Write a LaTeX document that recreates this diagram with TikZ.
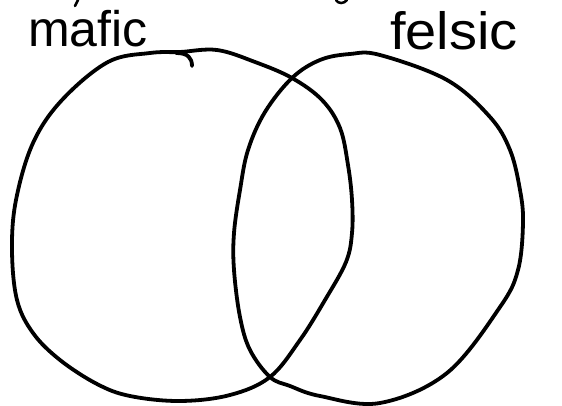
\documentclass[tikz,border=0pt]{standalone}
\usepackage{fontspec}
\usepackage{graphicx}
\setmainfont{Liberation Sans}
\begin{document}
\begin{tikzpicture}[x=1pt,y=-1pt,
  pen/.style={line width=3.8pt,line cap=round,line join=round,black},
  lbl/.style={inner sep=0pt,anchor=base west,font=\fontsize{50}{56}\selectfont}]
\useasboundingbox (0,0) rectangle (562,406);
% labels
\node[lbl] (mafic) at (28,47) {mafic};
\node[lbl] (felsic) at (390,50) {\scalebox{1.12}[1.05]{felsic}};
% left (mafic) ellipse
\draw[pen] plot[smooth cycle,tension=0.6] coordinates {
 (180,52) (217,50) (255,62) (292,78) (322,100) (340,128) (348,165)
 (352,200) (352,233) (346,262) (325,300) (300,340) (270,377)
 (230,395) (180,401) (130,396) (97,384) (60,360) (33,333) (17,300)
 (12,250) (16,200) (33,143) (62,100) (108,62) (150,53)};
% hook at start of stroke
\draw[pen] (176,53) .. controls (188,53) and (192,58) .. (192,66);
% right (felsic) ellipse
\draw[pen] plot[smooth cycle,tension=0.6] coordinates {
 (380,55) (447,80) (490,117) (510,150) (520,190) (523,223) (518,270)
 (500,307) (447,373) (380,403) (320,396) (290,386) (270,377)
 (250,350) (240,317) (234,270) (234,233) (240,190) (248,150)
 (265,112) (292,78) (320,60) (350,54)};
% cut-off fragments at top edge
\draw[line width=2.5pt,line cap=round] (78,0) -- (75,6);
\draw[line width=2.5pt,line cap=round] (336,0) .. controls (338,4) and (344,4) .. (347,0);
\end{tikzpicture}
\end{document}
